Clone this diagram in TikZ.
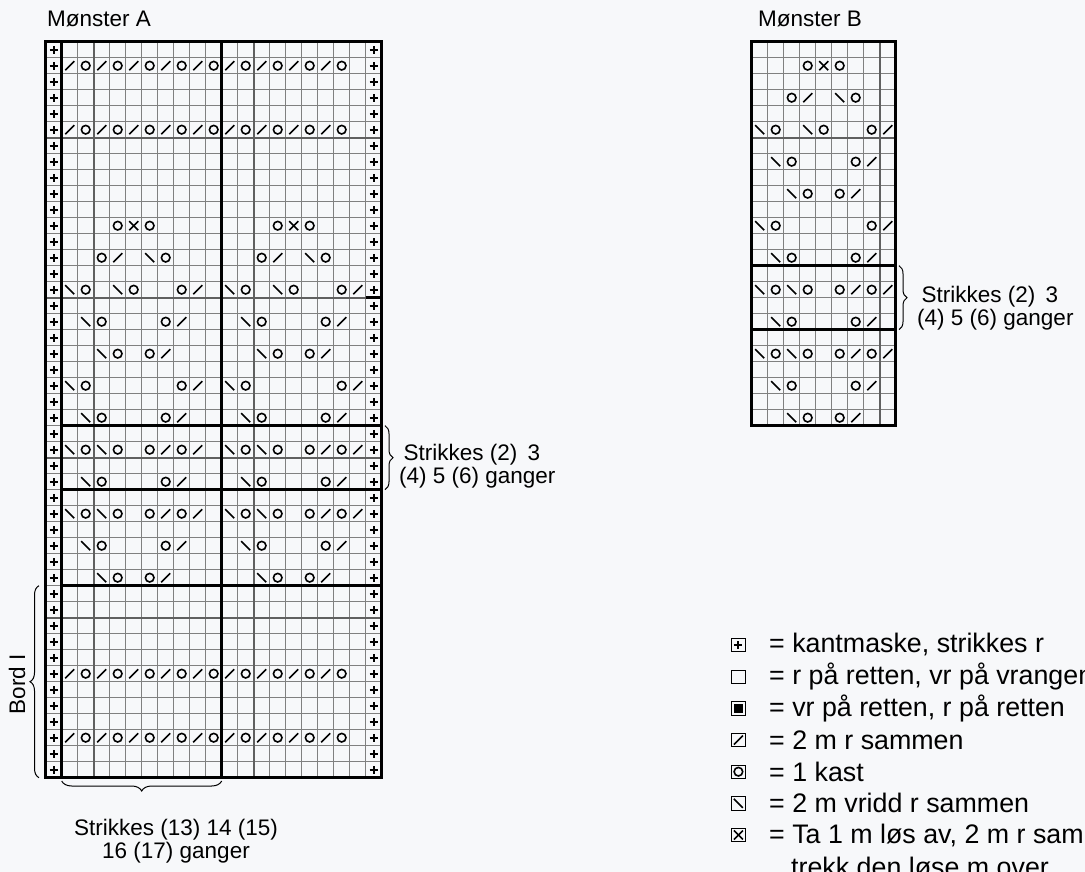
\documentclass[tikz,border=0pt]{standalone}
\usepackage{fontspec}
\setmainfont{Liberation Sans}
\usetikzlibrary{decorations.pathreplacing}

\definecolor{bakgrunn}{RGB}{247,248,250}
\definecolor{rutegraa}{RGB}{128,128,128}
\definecolor{midtgraa}{RGB}{96,96,96}

\tikzset{
  rute/.style={draw=rutegraa, line width=0.9pt},
  midtlinje/.style={draw=midtgraa, line width=1.8pt},
  tykklinje/.style={draw=black, line width=3pt},
  symb/.style={draw=black, line width=1.6pt},
  kantsymb/.style={draw=black, line width=2.1pt},
  klamme/.style={decorate, decoration={brace, amplitude=#1}, line width=1pt},
  klamme/.default=9pt,
  tekst/.style={font=\fontsize{22.5}{23.3}\selectfont, inner sep=0pt, align=left},
  forklaring/.style={font=\fontsize{26.8}{30}\selectfont, inner sep=0pt, anchor=west},
  tegnboks/.style={draw=black, line width=1pt}
}

% symbols, placed at the centre of a cell
\newcommand{\kast}[2]{\draw[symb] (#1,#2) circle[radius=4.3pt];}
\newcommand{\rsammen}[2]{\draw[symb] (#1,#2) ++(-4.5pt,-4.5pt) -- ++(9pt,9pt);}
\newcommand{\vriddsammen}[2]{\draw[symb] (#1,#2) ++(-4.5pt,4.5pt) -- ++(9pt,-9pt);}
\newcommand{\overtrekk}[2]{\rsammen{#1}{#2}\vriddsammen{#1}{#2}}
\newcommand{\kantm}[2]{\draw[kantsymb] (#1,#2) ++(-4pt,0pt) -- ++(8pt,0pt) (#1,#2) ++(0pt,-4pt) -- ++(0pt,8pt);}
\newcommand{\tegnrute}[1]{\draw[tegnboks] (731.7,#1-6.7) rectangle (745.1,#1+6.7);}

% one repeat of the lace motif, #1 = column offset, #2 = row offset
\newcommand{\monster}[2]{%
  \foreach \kol/\rad in {3/11,5/11,2/13,6/13,1/15,4/15,7/15,2/17,6/17,3/19,5/19,1/21,7/21,2/23,6/23,1/25,3/25,5/25,7/25,2/27,6/27,1/29,3/29,5/29,7/29,2/31,6/31,3/33,5/33}
    {\kast{#1+\kol+.5}{#2+\rad+.5}}
  \foreach \kol/\rad in {3/13,8/15,7/17,6/19,8/21,7/23,6/25,8/25,7/27,6/29,8/29,7/31,6/33}
    {\rsammen{#1+\kol+.5}{#2+\rad+.5}}
  \foreach \kol/\rad in {5/13,0/15,3/15,1/17,2/19,0/21,1/23,0/25,2/25,1/27,0/29,2/29,1/31,2/33}
    {\vriddsammen{#1+\kol+.5}{#2+\rad+.5}}
  \overtrekk{#1+4.5}{#2+11.5}%
}

\begin{document}
\begin{tikzpicture}[x=1pt, y=-1pt]
  \clip (0,0) rectangle (1085,872);
  \fill[bakgrunn] (0,0) rectangle (1085,872);

  % Mønster A
  \begin{scope}[xshift=45.7pt, yshift=-41.7pt, x=16pt, y=-16pt]
    \foreach \kol in {0,...,21} \draw[rute] (\kol,0) -- (\kol,46);
    \foreach \rad in {0,...,46} \draw[rute] (0,\rad) -- (21,\rad);
    \foreach \kol in {3,13} \draw[midtlinje] (\kol,0) -- (\kol,46);
    \foreach \rad in {6,16,26,36} \draw[midtlinje] (0,\rad) -- (21,\rad);
    \draw[tykklinje] (1,0) -- (1,46) (11,0) -- (11,46);
    \foreach \rad in {24,28,34} \draw[tykklinje] (1,\rad) -- (21,\rad);
    \draw[tykklinje] (20,16) -- (21,16);
    \draw[tykklinje] (0,0) rectangle (21,46);
    \foreach \rad in {0,...,45} {\kantm{.5}{\rad+.5}\kantm{20.5}{\rad+.5}}
    \foreach \rad in {1,5,39,43}
      \foreach \kol in {1,3,...,17} {\rsammen{\kol+.5}{\rad+.5}\kast{\kol+1.5}{\rad+.5}}
    \monster{1}{0}
    \monster{11}{0}
  \end{scope}

  % Mønster B
  \begin{scope}[xshift=751.7pt, yshift=-41.7pt, x=16pt, y=-16pt]
    \foreach \kol in {0,...,9} \draw[rute] (\kol,0) -- (\kol,24);
    \foreach \rad in {0,...,24} \draw[rute] (0,\rad) -- (9,\rad);
    \draw[midtlinje] (8,0) -- (8,24) (0,6) -- (9,6);
    \foreach \rad in {14,18} \draw[tykklinje] (0,\rad) -- (9,\rad);
    \draw[tykklinje] (0,0) rectangle (9,24);
    \monster{0}{-10}
  \end{scope}

  \node[tekst, anchor=base west] (tittelA) at (47,26.5) {Mønster A};
  \node[tekst, anchor=base west] (tittelB) at (758,26.5) {Mønster B};

  % repeats
  \draw[klamme=8pt] (385,425.7) -- (385,489.7);
  \node[tekst, anchor=west] (gjentakA) at (399,466) {\hspace*{4.5pt}Strikkes (2)\hspace{4pt} 3\\(4) 5 (6) ganger};
  \draw[klamme=8pt] (899,265.7) -- (899,329.7);
  \node[tekst, anchor=west] (gjentakB) at (917,308.3) {\hspace*{4.5pt}Strikkes (2)\hspace{4pt} 3\\(4) 5 (6) ganger};
  \draw[klamme=9pt] (39,777.7) -- (39,585.7);
  \node[tekst, rotate=90] (bord) at (17,684) {Bord I};
  \draw[klamme=10pt] (221.7,781) -- (61.7,781);
  \node[tekst, align=center] (bredde) at (176,841) {Strikkes (13) 14 (15)\\16 (17) ganger};

  % forklaring
  \tegnrute{645}\kantm{738.4}{645}
  \tegnrute{676.7}
  \tegnrute{708.3}\fill (734.2,704.1) rectangle (742.6,712.5);
  \tegnrute{740}\rsammen{738.4}{740}
  \tegnrute{771.7}\kast{738.4}{771.7}
  \tegnrute{803.3}\vriddsammen{738.4}{803.3}
  \tegnrute{835}\overtrekk{738.4}{835}
  \node[forklaring] (fk1) at (769,645) {= kantmaske, strikkes r};
  \node[forklaring] (fk2) at (769,676.7) {= r på retten, vr på vrangen};
  \node[forklaring] (fk3) at (769,708.3) {= vr på retten, r på retten};
  \node[forklaring] (fk4) at (769,740) {= 2 m r sammen};
  \node[forklaring] (fk5) at (769,771.7) {= 1 kast};
  \node[forklaring] (fk6) at (769,803.3) {= 2 m vridd r sammen};
  \node[forklaring] (fk7) at (769,835) {= Ta 1 m løs av, 2 m r sammen,};
  \node[forklaring] (fk8) at (791,866.7) {trekk den løse m over};
\end{tikzpicture}
\end{document}
